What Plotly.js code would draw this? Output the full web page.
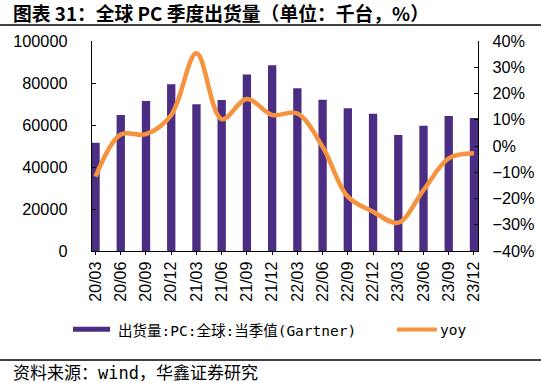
<!DOCTYPE html>
<html><head><meta charset="utf-8">
<script src="https://cdn.plot.ly/plotly-3.0.1.min.js"></script>
<style>html,body{margin:0;padding:0;background:#fff}#c{width:541px;height:383px}</style>
</head><body><div id="c"></div>
<script>
const categories = ["20/03","20/06","20/09","20/12","21/03","21/06","21/09","21/12","22/03","22/06","22/09","22/12","23/03","23/06","23/09","23/12"];
const shipments = [51600,64800,71400,79400,69900,71900,84100,88400,77500,72000,68000,65300,55200,59600,64300,63300];
const yoy = [-0.117,0.044,0.045,0.118,0.353,0.102,0.179,0.118,0.124,-0.003,-0.193,-0.25,-0.292,-0.168,-0.047,-0.028];
const barName = "出货量:PC:全球:当季值(Gartner)";
const lineName = "yoy";

const idx = categories.map((_, i) => i);
const cjk = '"Noto Sans CJK SC", sans-serif';
const mono = '"DejaVu Sans Mono", "Noto Sans CJK SC", monospace';
const arial = '"Liberation Sans", Arial, sans-serif';

const traces = [
  {type:'bar', x:idx, y:shipments, name:barName, marker:{color:'#4B2D83'}, width:0.33, yaxis:'y', hoverinfo:'skip'},
  {type:'scatter', mode:'lines', x:idx, y:yoy, name:lineName, yaxis:'y2', line:{color:'#F5933F', width:4.5, shape:'spline', smoothing:1}, hoverinfo:'skip'}
];

const px = v => (v-92)/386;
const py = v => (251-v)/210;
const tickFont = {family:arial, size:16.3, color:'#000'};

const layout = {
  width:541, height:383,
  margin:{l:92, r:63, t:41, b:132},
  paper_bgcolor:'#fff', plot_bgcolor:'#fff',
  showlegend:false,
  xaxis:{range:[-0.14,15.16], tickvals:idx, ticktext:categories, tickangle:-90,
    showline:true, linecolor:'#000', linewidth:1.2, ticks:'outside', ticklen:3, tickcolor:'#000',
    showgrid:false, zeroline:false, tickfont:{family:arial, size:16, color:'#000'}, fixedrange:true},
  yaxis:{range:[0,100000], dtick:20000, tickformat:'d', showline:true, linecolor:'#000', linewidth:1.2,
    ticks:'outside', ticklen:20, tickcolor:'rgba(0,0,0,0)', showgrid:false, zeroline:false, tickfont:tickFont},
  yaxis2:{range:[-0.4,0.4], dtick:0.1, tickformat:'.0%', showline:true, overlaying:'y', side:'right',
    linecolor:'#000', linewidth:1.2, ticks:'outside', ticklen:10, tickcolor:'rgba(0,0,0,0)', showgrid:false, zeroline:false, tickfont:tickFont},
  yaxis3:{range:[0,100000], dtick:20000, overlaying:'y', side:'left', showticklabels:false, showline:false,
    ticks:'inside', ticklen:4, tickcolor:'#000', showgrid:false, zeroline:false},
  yaxis4:{range:[-0.4,0.4], dtick:0.1, overlaying:'y', side:'right', showticklabels:false, showline:false,
    ticks:'inside', ticklen:4, tickcolor:'#000', showgrid:false, zeroline:false},
  shapes:[
    {type:'rect', xref:'paper', yref:'paper', x0:px(73), x1:px(110), y0:py(331.7), y1:py(326.7), fillcolor:'#4B2D83', line:{width:0}},
    {type:'line', xref:'paper', yref:'paper', x0:px(397), x1:px(437), y0:py(329.5), y1:py(329.5), line:{color:'#F5933F', width:4}},
    {type:'line', xref:'paper', yref:'paper', x0:px(0), x1:px(541), y0:py(25), y1:py(25), line:{color:'#000', width:1.5}},
    {type:'line', xref:'paper', yref:'paper', x0:px(0), x1:px(541), y0:py(360), y1:py(360), line:{color:'#000', width:1.5}}
  ],
  annotations:[
    {xref:'paper', yref:'paper', x:px(11), y:py(12), xanchor:'left', yanchor:'middle', showarrow:false,
     text:'<b>图表 31：全球 PC 季度出货量（单位：千台，%）</b>', font:{family:cjk, size:18.8, color:'#000'}},
    {xref:'paper', yref:'paper', x:px(116), y:py(330), xanchor:'left', yanchor:'middle', showarrow:false,
     text:barName, font:{family:mono, size:14.5, color:'#000'}},
    {xref:'paper', yref:'paper', x:px(438), y:py(330), xanchor:'left', yanchor:'middle', showarrow:false,
     text:lineName, font:{family:mono, size:14.5, color:'#000'}},
    {xref:'paper', yref:'paper', x:px(11), y:py(373), xanchor:'left', yanchor:'middle', showarrow:false,
     text:'资料来源：wind，华鑫证券研究', font:{family:mono, size:17, color:'#000'}}
  ]
};
// Empty traces so the overlay tick axes are drawn
traces.push({type:'scatter', x:[], y:[], yaxis:'y3', hoverinfo:'skip', showlegend:false});
traces.push({type:'scatter', x:[], y:[], yaxis:'y4', hoverinfo:'skip', showlegend:false});
Plotly.newPlot('c', traces, layout, {staticPlot:true, displayModeBar:false});
</script></body></html>
